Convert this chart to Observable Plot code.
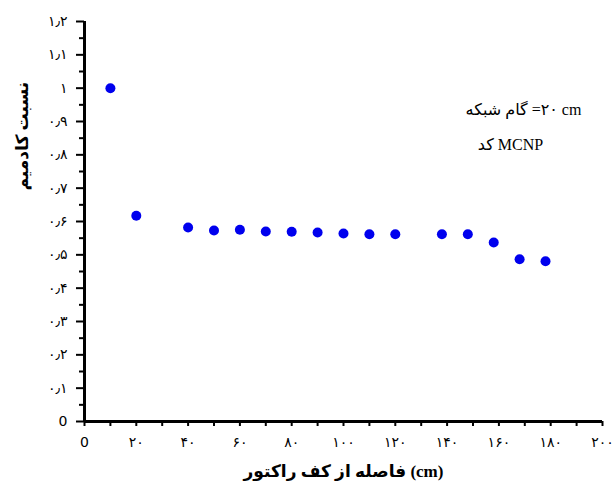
<!DOCTYPE html>
<html>
<head>
<meta charset="utf-8">
<script src="https://cdn.jsdelivr.net/npm/d3@7"></script>
<script src="https://cdn.jsdelivr.net/npm/@observablehq/plot@0.6"></script>
<style>
  body { margin: 0; background: #fff; }
  #chart svg { font-family: "Liberation Serif", "DejaVu Sans", serif; }
</style>
</head>
<body>
<div id="chart"></div>
<script>
// Data
const distance = [10, 20, 40, 50, 60, 70, 80, 90, 100, 110, 120, 138, 148, 158, 168, 178];
const ratio    = [1.0, 0.617, 0.582, 0.573, 0.575, 0.570, 0.569, 0.567, 0.564, 0.562, 0.562, 0.562, 0.562, 0.537, 0.487, 0.481];

const xTickValues = [0, 20, 40, 60, 80, 100, 120, 140, 160, 180, 200];
const xTickLabels = ["0", "۲۰", "۴۰", "۶۰", "۸۰", "۱۰۰", "۱۲۰", "۱۴۰", "۱۶۰", "۱۸۰", "۲۰۰"];
const xMinorTicks = [10, 30, 50, 70, 90, 110, 130, 150, 170, 190];

const yTickValues = [0, 0.1, 0.2, 0.3, 0.4, 0.5, 0.6, 0.7, 0.8, 0.9, 1.0, 1.1, 1.2];
const yTickLabels = ["0", "۰٫۱", "۰٫۲", "۰٫۳", "۰٫۴", "۰٫۵", "۰٫۶", "۰٫۷", "۰٫۸", "۰٫۹", "۱", "۱٫۱", "۱٫۲"];
const yMinorTicks = [0.05, 0.15, 0.25, 0.35, 0.45, 0.55, 0.65, 0.75, 0.85, 0.95, 1.05, 1.15];

const xTitle = "فاصله از کف راکتور (cm)";
const yTitle = "نسبت کادمیم";
const note1 = "گام شبکه\u200E =۲۰ cm";
const note2 = "کد MCNP";

const points = distance.map((d, i) => ({x: d, y: ratio[i]}));
const xFmt = v => xTickLabels[xTickValues.indexOf(v)];
const yFmt = v => yTickLabels[yTickValues.findIndex(t => Math.abs(t - v) < 1e-9)];
const noLabel = () => "";

const chart = Plot.plot({
  width: 616,
  height: 487,
  marginLeft: 84,
  marginRight: 14,
  marginTop: 21,
  marginBottom: 66,
  x: {domain: [0, 200]},
  y: {domain: [0, 1.2]},
  marks: [
    // minor ticks
    Plot.axisX({ticks: xMinorTicks, tickSize: 5, tickFormat: noLabel, label: null, strokeWidth: 2, stroke: "#000"}),
    Plot.axisY({ticks: yMinorTicks, tickSize: 5, tickFormat: noLabel, label: null, strokeWidth: 2, stroke: "#000"}),
    // major ticks
    Plot.axisX({ticks: xTickValues, tickSize: 5, tickPadding: 11, tickFormat: xFmt, label: null,
      strokeWidth: 2, stroke: "#000", fill: "#000", fontSize: 14, fontFamily: "DejaVu Sans"}),
    Plot.axisY({ticks: yTickValues, tickSize: 8, tickPadding: 9, tickFormat: yFmt, label: null,
      strokeWidth: 2, stroke: "#000", fill: "#000", fontSize: 14, fontFamily: "DejaVu Sans"}),
    // axis lines
    Plot.ruleY([0], {stroke: "#000", strokeWidth: 3}),
    Plot.ruleX([0], {stroke: "#000", strokeWidth: 3}),
    // data
    Plot.dot(points, {x: "x", y: "y", r: 5, fill: "#0000ee", stroke: "none"}),
    // annotation
    Plot.text([note1], {frameAnchor: "top-right", dx: -79, dy: 82, textAnchor: "middle", fontSize: 16, fill: "#000"}),
    Plot.text([note2], {frameAnchor: "top-right", dx: -92, dy: 117, textAnchor: "middle", fontSize: 16, fill: "#000"}),
    // axis titles
    Plot.text([xTitle], {frameAnchor: "bottom", dy: 55, fontSize: 17, fontWeight: "bold", fill: "#000"}),
    Plot.text([yTitle], {frameAnchor: "left", dx: -62, dy: -31, rotate: -90, fontSize: 17, fontWeight: "bold", fill: "#000"})
  ]
});
document.getElementById("chart").appendChild(chart);
</script>
</body>
</html>
